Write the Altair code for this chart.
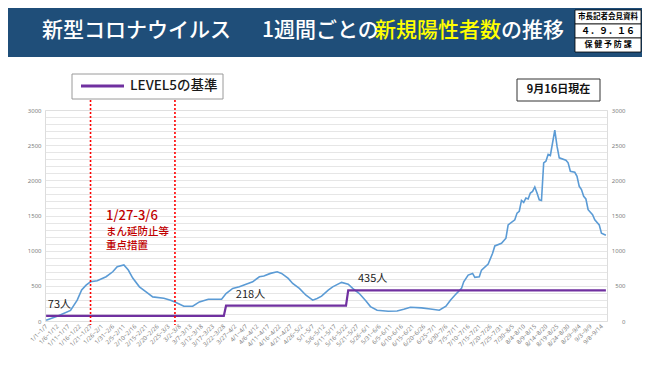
import json
import altair as alt
import pandas as pd

# ---- data ----
week_labels = [
    "1/1~1/7", "1/6~1/12", "1/11~1/17", "1/16~1/22", "1/21~1/27", "1/26~2/1",
    "1/31~2/6", "2/5~2/11", "2/10~2/16", "2/15~2/21", "2/20~2/26", "2/25~3/3",
    "3/2~3/8", "3/7~3/13", "3/12~3/18", "3/17~3/23", "3/22~3/28", "3/27~4/2",
    "4/1~4/7", "4/6~4/12", "4/11~4/17", "4/16~4/22", "4/21~4/27", "4/26~5/2",
    "5/1~5/7", "5/6~5/12", "5/11~5/17", "5/16~5/22", "5/21~5/27", "5/26~6/1",
    "5/31~6/6", "6/5~6/11", "6/10~6/16", "6/15~6/21", "6/20~6/26", "6/25~7/1",
    "6/30~7/6", "7/5~7/11", "7/10~7/16", "7/15~7/21", "7/20~7/26", "7/25~7/31",
    "7/30~8/5", "8/4~8/10", "8/9~8/15", "8/14~8/20", "8/19~8/25", "8/24~8/30",
    "8/29~9/4", "9/3~9/9", "9/8~9/14",
]
label_days = list(range(0, 251, 5))

blue_days = [0, 5, 11, 14, 16, 18, 20, 23, 27, 30, 32, 35, 37, 39, 42, 45, 48, 53, 56, 58,
             62, 66, 69, 73, 75, 79, 81, 84, 87, 90, 93, 96, 98, 101, 104, 106, 109, 111,
             114, 117, 120, 122, 124, 127, 129, 133, 136, 138, 141, 144, 146, 149, 154,
             158, 161, 164, 169, 173, 177, 180, 182, 184, 187, 188, 190, 192, 193, 195,
             196, 199, 201, 202, 205, 207, 208, 211, 212, 213, 214, 215, 216, 217, 218,
             219, 220, 221, 222, 223, 224, 225, 226, 227, 229, 230, 231, 234, 235, 236,
             238, 239, 240, 241, 242, 243, 244, 246, 247, 249, 250, 252]
blue_values = [10, 67, 150, 296, 440, 510, 557, 571, 629, 700, 771, 796, 724, 610, 486, 414,
               343, 324, 296, 271, 210, 210, 271, 310, 310, 310, 391, 463, 486, 524, 557,
               629, 639, 677, 700, 677, 606, 534, 463, 367, 296, 320, 353, 439, 486, 549,
               524, 463, 391, 285, 205, 153, 139, 143, 167, 196, 186, 171, 153, 210, 296,
               367, 463, 557, 653, 677, 620, 629, 724, 810, 963, 1067, 1106, 1177, 1367,
               1439, 1534, 1560, 1714, 1686, 1749, 1735, 1820, 1843, 1906, 1820, 1724,
               1714, 2249, 2272, 2368, 2353, 2715, 2486, 2320, 2286, 2249, 2129, 2115,
               2058, 1915, 1868, 1772, 1735, 1582, 1510, 1439, 1367, 1249, 1220]

level_days = [0, 80, 81, 135, 136, 252]
level_values = [73, 73, 218, 218, 435, 435]

level_label_days = [6, 92, 147]
level_label_values = [73, 218, 435]
level_label_texts = ["73人", "218人", "435人"]

measure_days = [20, 58]  # 1/27 and 3/6

BLUE = "#5B9BD5"
PURPLE = "#7030A0"
RED = "#FF0000"
DARKRED = "#C00000"
BANNER = "#1F4E79"
FONT = "Noto Sans CJK JP"

xscale = alt.Scale(domain=[-0.5, 252.5], nice=False, zero=False)
yscale = alt.Scale(domain=[0, 3000], nice=False)

label_expr = json.dumps(week_labels) + "[round(datum.value / 5)]"

xaxis = alt.Axis(values=label_days, labelExpr=label_expr, labelAngle=-45, labelAlign="right",
                 labelBaseline="middle", labelFontSize=6, labelColor="#7f7f7f",
                 labelFont="Noto Sans", ticks=False, domain=False, grid=False, title=None,
                 labelPadding=4, labelOverlap=False, labelBound=False)
yaxis_left = alt.Axis(values=list(range(0, 3001, 100)),
                      labelExpr="datum.value % 500 == 0 ? datum.label : ''",
                      format="d", labelFontSize=6, labelColor="#7f7f7f", labelFont="Noto Sans",
                      ticks=False, domain=False, grid=True, gridColor="#e0e0e0", gridWidth=0.8,
                      title=None, labelPadding=4)
yaxis_right = alt.Axis(orient="right", values=list(range(0, 3001, 500)), format="d",
                       labelFontSize=6, labelColor="#7f7f7f", labelFont="Noto Sans",
                       labelAlign="right", labelPadding=18, ticks=False, domain=False,
                       grid=False, title=None)

blue_df = pd.DataFrame({"day": blue_days, "cases": blue_values})
level_df = pd.DataFrame({"day": level_days, "cases": level_values})
lab_df = pd.DataFrame({"day": level_label_days, "cases": level_label_values, "t": level_label_texts})
meas_df = pd.DataFrame({"day": measure_days})
one = pd.DataFrame({"k": [0]})

X = alt.X("day:Q", scale=xscale, axis=xaxis)

blue = alt.Chart(blue_df).mark_line(color=BLUE, strokeWidth=1.6).encode(
    x=X,
    y=alt.Y("cases:Q", scale=yscale, axis=yaxis_left),
)
level = alt.Chart(level_df).mark_line(color=PURPLE, strokeWidth=2.2).encode(
    x=X,
    y=alt.Y("cases:Q", scale=yscale, axis=yaxis_right),
)
level_text = alt.Chart(lab_df).mark_text(fontSize=11, color="#222222", font=FONT,
                                         baseline="middle", dy=-11).encode(
    x=X,
    y=alt.Y("cases:Q", scale=yscale, axis=None),
    text="t:N",
)
rules = alt.Chart(meas_df).mark_rule(color=RED, strokeDash=[2, 2], strokeWidth=1.6).encode(
    x=X,
    y=alt.value(-10), y2=alt.value(215),
)


def rect(x1, x2, y1, y2, fill, stroke=None, sw=1):
    kw = dict(fill=fill)
    if stroke:
        kw.update(stroke=stroke, strokeWidth=sw)
    return alt.Chart(one).mark_rect(**kw).encode(
        x=alt.value(x1), x2=alt.value(x2), y=alt.value(y1), y2=alt.value(y2))


def txt(s, x, y, size, color, align="left", weight="normal", font=FONT):
    return alt.Chart(one).mark_text(text=s, align=align, baseline="middle", fontSize=size,
                                    color=color, fontWeight=weight, font=font).encode(
        x=alt.value(x), y=alt.value(y))


banner = rect(-37, 597, -102, -53, BANNER)
t1 = txt("新型コロナウイルス", -3, -79, 21, "white", weight=500)
t2 = txt("1週間ごとの", 217, -79, 21, "white", weight=500)
t3 = txt("新規陽性者数", 330, -79, 21, "#FFFF00", weight=500)
t4 = txt("の推移", 456, -79, 21, "white", weight=500)

b1 = rect(530, 596, -100, -86, "white", "#000000", 0.8)
b2 = rect(530, 596, -86, -72, "white", "#000000", 0.8)
b3 = rect(530, 596, -72, -58, "white", "#000000", 0.8)
bt1 = txt("市長記者会見資料", 563, -93, 7.5, "#000000", align="center", weight="bold")
bt2 = txt("４．９．１６", 563, -79, 9, "#000000", align="center", weight="bold")
bt3 = txt("保 健 予 防 課", 563, -65, 8, "#000000", align="center", weight="bold")

legend_box = rect(27, 178, -36, -11, "white", "#9a9a9a", 1)
legend_line = alt.Chart(one).mark_rule(color=PURPLE, strokeWidth=3).encode(
    x=alt.value(36), x2=alt.value(79), y=alt.value(-24))
legend_text = txt("LEVEL5の基準", 85, -24, 13.5, "#1a1a1a", weight=500)

date_box = rect(472, 555, -31, -9, "white", "#333333", 1)
date_text = txt("9月16日現在", 513.5, -20, 11, "#111111", align="center", weight="bold")

r1 = txt("1/27-3/6", 61, 106, 13, DARKRED, weight=500)
r2 = txt("まん延防止等", 61, 122, 10.5, DARKRED, weight=500)
r3 = txt("重点措置", 61, 135.5, 10.5, DARKRED, weight=500)

chart = alt.layer(
    blue, level, rules, level_text,
    banner, t1, t2, t3, t4, b1, b2, b3, bt1, bt2, bt3,
    legend_box, legend_line, legend_text, date_box, date_text, r1, r2, r3,
).resolve_axis(y="independent").properties(
    width=562, height=211,
    padding={"left": 37, "top": 102, "right": 35, "bottom": 61},
    autosize=alt.AutoSizeParams(type="none"),
).configure_view(stroke="#dedede", strokeWidth=0.8).configure(font=FONT)

chart.save("out.html", embed_options={"renderer": "svg", "actions": False})
